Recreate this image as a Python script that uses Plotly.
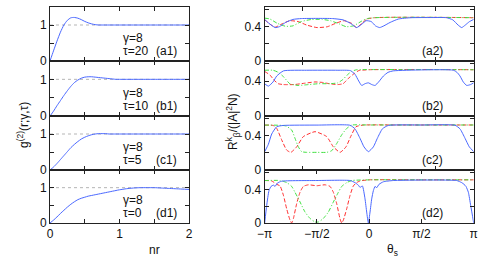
import plotly.graph_objects as go
from plotly.subplots import make_subplots

# ---------------- left column: g2 vs nr ----------------
nr = [0, 0.05, 0.1, 0.15, 0.2, 0.25, 0.3, 0.35, 0.4, 0.45, 0.5, 0.55, 0.6, 0.65, 0.7,
      0.75, 0.8, 0.85, 0.9, 0.95, 1.0, 1.1, 1.2, 1.3, 1.4, 1.5, 1.6, 1.7, 1.8, 1.9, 2.0]
g_a1 = [0, 0.28, 0.55, 0.80, 1.0, 1.13, 1.20, 1.21, 1.19, 1.15, 1.10, 1.06, 1.03, 1.01, 1.0,
        1.0, 1.0, 1.0, 1.0, 1.0, 1.0, 1.0, 1.0, 1.0, 1.0, 1.0, 1.0, 1.0, 1.0, 1.0, 1.0]
g_b1 = [0, 0.13, 0.28, 0.42, 0.56, 0.69, 0.81, 0.91, 0.98, 1.03, 1.06, 1.07, 1.07, 1.06, 1.05,
        1.04, 1.03, 1.02, 1.01, 1.0, 1.0, 1.0, 1.0, 1.0, 1.0, 1.0, 1.0, 1.0, 1.0, 1.0, 1.0]
g_c1 = [0, 0.08, 0.18, 0.29, 0.40, 0.51, 0.62, 0.71, 0.79, 0.86, 0.91, 0.95, 0.98, 1.0, 1.01,
        1.01, 1.01, 1.0, 1.0, 1.0, 1.0, 1.0, 1.0, 1.0, 1.0, 1.0, 1.0, 1.0, 1.0, 1.0, 1.0]
g_d1 = [0, 0.08, 0.17, 0.27, 0.36, 0.45, 0.53, 0.60, 0.66, 0.70, 0.73, 0.76, 0.78, 0.80, 0.82,
        0.84, 0.86, 0.88, 0.90, 0.92, 0.94, 0.97, 0.99, 1.0, 1.0, 1.0, 0.99, 0.98, 0.97, 0.96, 0.95]
g_series = [g_a1, g_b1, g_c1, g_d1]
tau_vals = ["20", "10", "5", "0"]
left_tags = ["(a1)", "(b1)", "(c1)", "(d1)"]
right_tags = ["(a2)", "(b2)", "(c2)", "(d2)"]

# ---------------- right column: R vs theta_s (theta in units of pi) ----------------
a2_blue_t = [-1, -0.96, -0.90, -0.86, -0.80, -0.73, -0.65, -0.5, -0.35, -0.25, -0.18, -0.12, -0.07, -0.03,
             0.02, 0.06, 0.10, 0.14, 0.2, 0.28, 0.4, 0.6, 0.74, 0.80, 0.85, 0.885, 0.92, 0.96, 1]
a2_blue = [0.485, 0.44, 0.39, 0.40, 0.45, 0.485, 0.495, 0.497, 0.495, 0.48, 0.44, 0.39, 0.43, 0.47,
           0.46, 0.41, 0.39, 0.41, 0.45, 0.49, 0.505, 0.507, 0.505, 0.48, 0.42, 0.39, 0.42, 0.46, 0.485]
a2_red_t = [-1, -0.95, -0.90, -0.84, -0.76, -0.68, -0.6, -0.5, -0.4, -0.32, -0.24, -0.17, -0.12, -0.07,
            -0.02, 0.05, 0.2, 0.5, 0.8, 1]
a2_red = [0.48, 0.43, 0.395, 0.43, 0.47, 0.46, 0.42, 0.39, 0.40, 0.44, 0.47, 0.44, 0.39, 0.44,
          0.49, 0.505, 0.51, 0.51, 0.508, 0.505]
a2_green_t = [-1, -0.95, -0.88, -0.80, -0.73, -0.65, -0.55, -0.45, -0.37, -0.28, -0.22, -0.15, -0.08,
              -0.02, 0.05, 0.3, 0.6, 1]
a2_green = [0.50, 0.49, 0.44, 0.405, 0.41, 0.46, 0.485, 0.485, 0.47, 0.43, 0.40, 0.41, 0.46,
            0.495, 0.505, 0.51, 0.51, 0.505]

b2_blue_t = [-1, -0.965, -0.92, -0.885, -0.82, -0.6, -0.3, -0.18, -0.136, -0.1, -0.072, -0.04, -0.008,
             0.025, 0.056, 0.09, 0.136, 0.18, 0.231, 0.5, 0.805, 0.84, 0.869, 0.90, 0.933, 0.97, 1]
b2_blue = [0.369, 0.342, 0.39, 0.458, 0.517, 0.524, 0.524, 0.52, 0.478, 0.40, 0.35, 0.37, 0.38,
           0.36, 0.35, 0.39, 0.458, 0.50, 0.517, 0.528, 0.525, 0.50, 0.458, 0.39, 0.35, 0.36, 0.38]
b2_red_t = [-1, -0.95, -0.91, -0.87, -0.82, -0.72, -0.62, -0.52, -0.45, -0.38, -0.30, -0.25, -0.20,
            -0.15, -0.10, 0.0, 0.3, 0.7, 1]
b2_red = [0.51, 0.47, 0.41, 0.37, 0.36, 0.36, 0.375, 0.39, 0.385, 0.37, 0.36, 0.37, 0.43,
          0.48, 0.52, 0.53, 0.532, 0.532, 0.53]
b2_green_t = [-1, -0.92, -0.87, -0.82, -0.76, -0.68, -0.58, -0.48, -0.38, -0.30, -0.25, -0.21, -0.17,
              -0.12, 0.0, 0.3, 0.7, 1]
b2_green = [0.524, 0.524, 0.50, 0.45, 0.37, 0.35, 0.36, 0.37, 0.37, 0.38, 0.42, 0.47, 0.51,
            0.53, 0.532, 0.532, 0.532, 0.53]

c2_blue_t = [-1, -0.965, -0.933, -0.885, -0.82, -0.5, -0.183, -0.136, -0.088, -0.05, -0.008, 0.04,
             0.078, 0.126, 0.183, 0.5, 0.821, 0.869, 0.917, 0.958, 1]
c2_blue = [0.214, 0.30, 0.42, 0.505, 0.52, 0.524, 0.522, 0.48, 0.37, 0.27, 0.214, 0.27,
           0.37, 0.48, 0.52, 0.525, 0.522, 0.48, 0.37, 0.27, 0.214]
c2_red_t = [-1, -0.92, -0.885, -0.837, -0.79, -0.75, -0.694, -0.63, -0.518, -0.407, -0.343, -0.279,
            -0.222, -0.177, -0.126, -0.06, 0.3, 1]
c2_red = [0.524, 0.52, 0.485, 0.35, 0.233, 0.206, 0.27, 0.39, 0.447, 0.39, 0.27, 0.206,
          0.27, 0.39, 0.505, 0.524, 0.525, 0.525]
c2_green_t = [-1, -0.8, -0.742, -0.71, -0.678, -0.646, -0.6, -0.5, -0.407, -0.359, -0.31, -0.263,
              -0.215, -0.167, 0.0, 1]
c2_green = [0.524, 0.515, 0.466, 0.37, 0.27, 0.214, 0.206, 0.206, 0.206, 0.225, 0.31, 0.41,
            0.485, 0.524, 0.525, 0.525]

d2_blue_t = [-1, -0.981, -0.959, -0.939, -0.917, -0.901, -0.879, -0.837, -0.5, -0.183, -0.136, -0.104,
             -0.088, -0.065, -0.04, -0.024, -0.008, 0.008, 0.024, 0.04, 0.056, 0.072, 0.094, 0.136,
             0.231, 0.837, 0.885, 0.907, 0.926, 0.949, 0.971, 1]
d2_blue = [0.0, 0.21, 0.385, 0.435, 0.45, 0.435, 0.474, 0.497, 0.505, 0.505, 0.48, 0.45,
           0.423, 0.44, 0.287, 0.13, 0.0, 0.13, 0.287, 0.385, 0.435, 0.42, 0.46, 0.49,
           0.505, 0.505, 0.48, 0.46, 0.435, 0.365, 0.21, 0.0]
d2_red_t = [-1, -0.933, -0.885, -0.853, -0.821, -0.79, -0.758, -0.742, -0.726, -0.694, -0.662, -0.63,
            -0.582, -0.502, -0.423, -0.375, -0.343, -0.311, -0.279, -0.263, -0.247, -0.215, -0.183,
            -0.152, -0.12, -0.088, 0.0, 0.5, 1]
d2_red = [0.505, 0.50, 0.46, 0.44, 0.33, 0.17, 0.035, 0.0, 0.05, 0.23, 0.365, 0.435,
          0.454, 0.443, 0.454, 0.435, 0.365, 0.23, 0.05, 0.0, 0.035, 0.17, 0.33,
          0.44, 0.48, 0.50, 0.513, 0.513, 0.513]
d2_green_t = [-1, -0.853, -0.789, -0.742, -0.71, -0.662, -0.614, -0.566, -0.518, -0.486, -0.439, -0.391,
              -0.343, -0.295, -0.263, -0.215, -0.167, 0.0, 1]
d2_green = [0.505, 0.505, 0.48, 0.435, 0.365, 0.25, 0.13, 0.054, 0.012, 0.012, 0.054, 0.13,
            0.25, 0.365, 0.435, 0.48, 0.505, 0.513, 0.513]

right_panels = [
    (a2_blue_t, a2_blue, a2_red_t, a2_red, a2_green_t, a2_green),
    (b2_blue_t, b2_blue, b2_red_t, b2_red, b2_green_t, b2_green),
    (c2_blue_t, c2_blue, c2_red_t, c2_red, c2_green_t, c2_green),
    (d2_blue_t, d2_blue, d2_red_t, d2_red, d2_green_t, d2_green),
]

theta_ticks = [-1, -0.5, 0, 0.5, 1]
theta_ticktext = ["\u2212\u03c0", "\u2212\u03c0/2", "0", "\u03c0/2", "\u03c0"]
theta_minor = [-0.6366, 0, 0.6366]

W, H = 498, 264
BLUE = "#4a68ff"
RED = "#ff3030"
GREEN = "#40e040"
AX = "#222222"
FONT = "Liberation Sans, Arial, sans-serif"

fig = make_subplots(rows=4, cols=2)

left_x = (50, 189)
right_x = (264.7, 473.7)
rows_px = [(7, 61), (61, 116), (116, 170), (170, 223)]

for i in range(4):
    r = i + 1
    fig.add_trace(go.Scatter(x=nr, y=g_series[i], mode="lines",
                             line=dict(color=BLUE, width=1, shape="spline", smoothing=0.6),
                             showlegend=False), row=r, col=1)
    bt, bv, rt, rv, gt, gv = right_panels[i]
    fig.add_trace(go.Scatter(x=rt, y=rv, mode="lines",
                             line=dict(color=RED, width=1, dash="4px,2px", shape="spline", smoothing=0.5),
                             showlegend=False), row=r, col=2)
    fig.add_trace(go.Scatter(x=gt, y=gv, mode="lines",
                             line=dict(color=GREEN, width=1, dash="4px,2px,1px,2px", shape="spline", smoothing=0.5),
                             showlegend=False), row=r, col=2)
    fig.add_trace(go.Scatter(x=bt, y=bv, mode="lines",
                             line=dict(color=BLUE, width=1, shape="spline", smoothing=0.5),
                             showlegend=False), row=r, col=2)
    fig.add_hline(y=1, row=r, col=1, line=dict(color="#b5b5b5", width=1, dash="dot"), layer="below")

axis_common = dict(showline=True, linecolor=AX, linewidth=1, mirror="ticks", ticks="inside",
                   ticklen=4, tickcolor=AX, tickwidth=1, showgrid=False, zeroline=False,
                   automargin=False, tickfont=dict(family=FONT, size=12, color="#111"))
minor_common = dict(ticks="inside", ticklen=4, tickcolor=AX, tickwidth=1, showgrid=False)

for i in range(4):
    y0, y1 = rows_px[i]
    dom = [1 - y1 / H, 1 - y0 / H]
    nL = 2 * i + 1
    nR = 2 * i + 2
    last = (i == 3)
    xl = dict(axis_common, domain=[left_x[0] / W, left_x[1] / W], range=[0, 2],
              tickvals=[0, 1, 2], minor=dict(minor_common, dtick=0.5),
              showticklabels=last)
    yl = dict(axis_common, domain=dom, range=[0, 1.5],
              tickvals=[0, 1], minor=dict(minor_common, dtick=0.5))
    if last:
        xr_ticks = dict(tickvals=theta_ticks, ticktext=theta_ticktext, showticklabels=True)
    else:
        xr_ticks = dict(tickvals=theta_minor, showticklabels=False)
    xr = dict(axis_common, domain=[right_x[0] / W, right_x[1] / W], range=[-1, 1], **xr_ticks)
    yr = dict(axis_common, domain=dom, range=[0, 0.63],
              tickvals=[0, 0.4], ticktext=["0", "0.4"], minor=dict(minor_common, dtick=0.2))
    fig.layout["xaxis" + ("" if nL == 1 else str(nL))].update(xl)
    fig.layout["yaxis" + ("" if nL == 1 else str(nL))].update(yl)
    fig.layout["xaxis" + str(nR)].update(xr)
    fig.layout["yaxis" + str(nR)].update(yr)

    xrefL = "x" if nL == 1 else "x%d" % nL
    yrefL = "y" if nL == 1 else "y%d" % nL
    tf = dict(family=FONT, size=12, color="#111")
    fig.add_annotation(x=1.02, y=0.64, xref=xrefL, yref=yrefL, text="\u03b3=8", showarrow=False,
                       xanchor="left", yanchor="middle", font=tf)
    fig.add_annotation(x=1.02, y=0.28, xref=xrefL, yref=yrefL, text="\u03c4=" + tau_vals[i],
                       showarrow=False, xanchor="left", yanchor="middle", font=tf)
    fig.add_annotation(x=1.5, y=0.28, xref=xrefL, yref=yrefL, text=left_tags[i],
                       showarrow=False, xanchor="left", yanchor="middle", font=tf)
    fig.add_annotation(x=0.486, y=0.117, xref="x%d" % nR, yref="y%d" % nR, text=right_tags[i],
                       showarrow=False, xanchor="left", yanchor="middle", font=tf)

tf = dict(family=FONT, size=12, color="#111")
fig.add_annotation(x=154 / W, y=1 - 250 / H, xref="paper", yref="paper", text="nr",
                   showarrow=False, xanchor="center", yanchor="middle", font=tf)
fig.add_annotation(x=392 / W, y=1 - 250 / H, xref="paper", yref="paper", text="\u03b8<sub>s</sub>",
                   showarrow=False, xanchor="center", yanchor="middle", font=tf)
fig.add_annotation(x=23 / W, y=1 - 125 / H, xref="paper", yref="paper",
                   text="g<sup>(2)</sup>(r;\u03b3,\u03c4)", textangle=-90,
                   showarrow=False, xanchor="center", yanchor="middle", font=tf)
fig.add_annotation(x=233 / W, y=1 - 122 / H, xref="paper", yref="paper",
                   text="R<sup>k</sup><sub>\u03b2</sub>/(|A|<sup>2</sup>N)", textangle=-90,
                   showarrow=False, xanchor="center", yanchor="middle", font=tf)

fig.update_layout(width=W, height=H, margin=dict(l=0, r=0, t=0, b=0, pad=0, autoexpand=False),
                  paper_bgcolor="white", plot_bgcolor="white", showlegend=False,
                  font=dict(family=FONT, size=12, color="#111"))

fig.write_html("out.html", config={"displayModeBar": False},
               post_script="document.body.style.margin='0';document.body.style.overflow='hidden';")
